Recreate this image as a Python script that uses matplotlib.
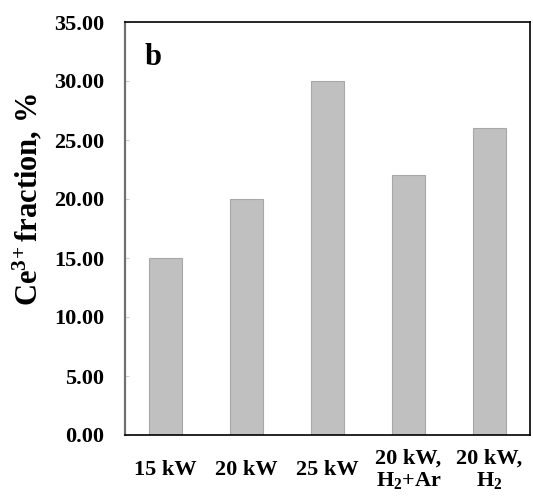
import numpy as np
import matplotlib.pyplot as plt

plt.rcParams['font.family'] = ['Liberation Serif', 'DejaVu Serif']
plt.rcParams['font.weight'] = 'bold'
plt.rcParams['mathtext.fontset'] = 'custom'
plt.rcParams['mathtext.rm'] = 'Liberation Serif:bold'
plt.rcParams['mathtext.default'] = 'rm'

categories = ['15 kW', '20 kW', '25 kW', '20 kW,\nH$_2$+Ar', '20 kW,\nH$_2$']
ce3_fraction = [15.0, 20.0, 30.0, 22.0, 26.0]
yticks = [0, 5, 10, 15, 20, 25, 30, 35]

fig = plt.figure(figsize=(5.33, 4.99), dpi=100)
ax = fig.add_axes([125 / 533, 1 - 435 / 499, 405 / 533, 413 / 499])

x = np.arange(len(categories))
ax.bar(x, ce3_fraction, width=0.4, color='#c0c0c0', edgecolor='#a8a8a8', linewidth=0.8)

ax.set_xlim(-0.5, len(categories) - 0.5)
ax.set_ylim(0, 35)
ax.set_yticks(yticks)
ax.set_yticklabels([f'{v:.2f}' for v in yticks], fontsize=16, fontweight='bold')
ax.set_xticks(x)
ax.set_xticklabels(categories, fontsize=16, fontweight='bold', va='center',
                   linespacing=1.1)
ax.tick_params(axis='x', length=0, pad=25)
ax.tick_params(axis='y', direction='in', length=3, color='#d0d0d0', pad=15)

ax.set_ylabel('Ce$^{3\\!+}$fraction, %', fontsize=22, fontweight='bold')
ax.yaxis.set_label_coords(-0.2, 0.57)

for side in ['top', 'bottom', 'right']:
    ax.spines[side].set_color('black')
    ax.spines[side].set_linewidth(1.2)
ax.spines['left'].set_color('#707070')
ax.spines['left'].set_linewidth(1.6)

ax.text(0.048, 0.915, 'b', transform=ax.transAxes, fontsize=22, fontweight='bold',
        va='center', ha='left')

fig.savefig('out.png', dpi=100)
